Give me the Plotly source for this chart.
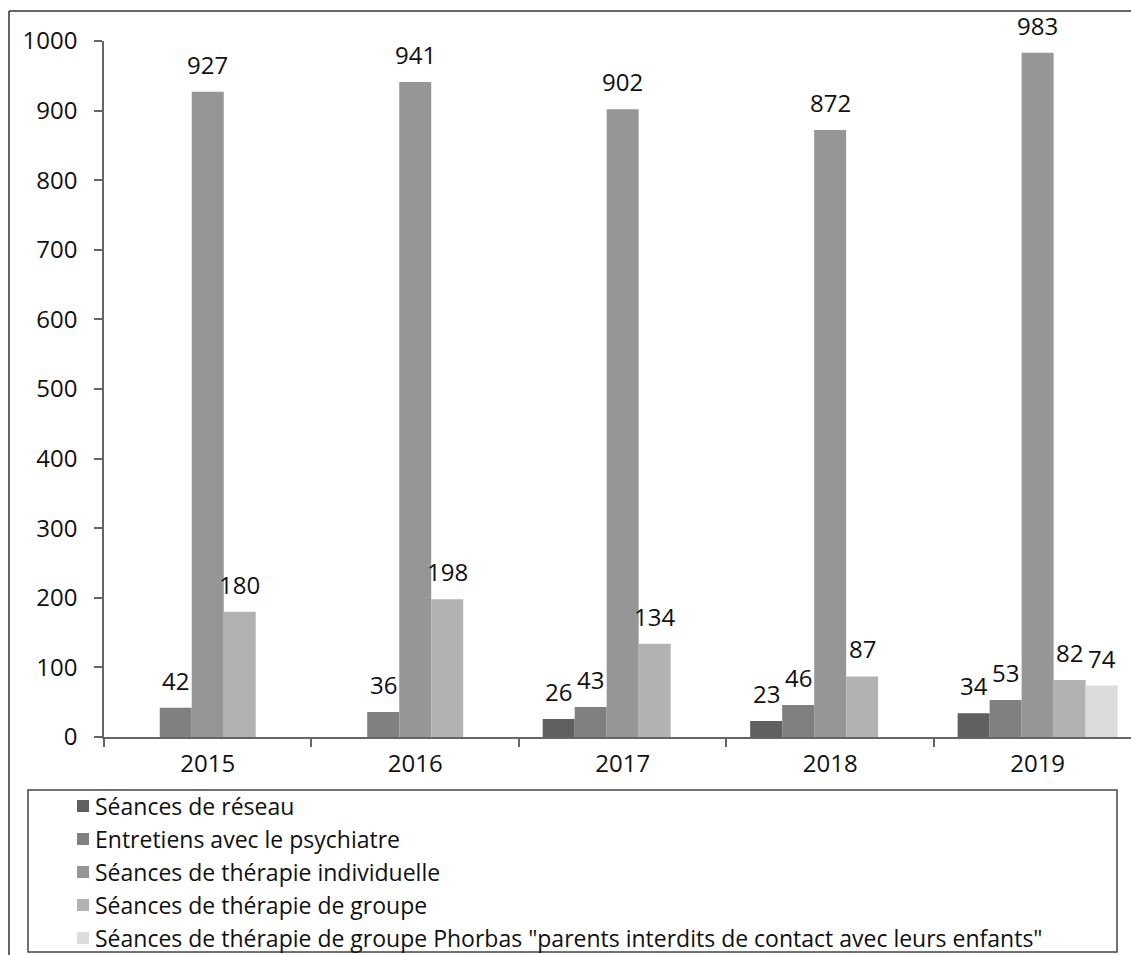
import plotly.graph_objects as go

years = ["2015", "2016", "2017", "2018", "2019"]
series_names = [
    "Séances de réseau",
    "Entretiens avec le psychiatre",
    "Séances de thérapie individuelle",
    "Séances de thérapie de groupe",
    'Séances de thérapie de groupe Phorbas "parents interdits de contact avec leurs enfants"',
]
reseau = [None, None, 26, 23, 34]
psychiatre = [42, 36, 43, 46, 53]
individuelle = [927, 941, 902, 872, 983]
groupe = [180, 198, 134, 87, 82]
phorbas = [None, None, None, None, 74]
series_values = [reseau, psychiatre, individuelle, groupe, phorbas]
colors = ["#606060", "#808080", "#969696", "#b2b2b2", "#dcdcdc"]

FONT = "Open Sans"
W, H = 1131, 955
ML, MR, MT, MB = 104, 0, 41, 218
PW, PH = W - ML - MR, H - MT - MB
XR = [-0.5, 4.45]
BARGAP = 0.229

def px(x):
    return (x - ML) / PW

def py(y):
    return (H - MB - y) / PH

fig = go.Figure()
for name, vals, col in zip(series_names, series_values, colors):
    fig.add_trace(go.Bar(x=years, y=vals, name=name, marker_color=col,
                         marker_line_width=0, showlegend=False))

n = len(series_values)
cat_px = PW / (XR[1] - XR[0])
bar_px = cat_px * (1 - BARGAP) / n
annotations = []
for i, vals in enumerate(series_values):
    for j, v in enumerate(vals):
        if v is None:
            continue
        annotations.append(dict(x=j, y=v, xref="x", yref="y", text=str(v),
                                showarrow=False, yanchor="bottom", xanchor="center",
                                xshift=(i - (n - 1) / 2) * bar_px, yshift=9,
                                font=dict(family=FONT, size=24, color="#111")))

shapes = []
# outer frame (left and top edges)
shapes.append(dict(type="line", xref="paper", yref="paper", x0=px(9), x1=px(9),
                   y0=py(960), y1=py(11), line=dict(color="#333", width=1.5)))
shapes.append(dict(type="line", xref="paper", yref="paper", x0=px(9), x1=px(1135),
                   y0=py(11), y1=py(11), line=dict(color="#333", width=1.5)))
# legend box
shapes.append(dict(type="rect", xref="paper", yref="paper", x0=px(28), x1=px(1117),
                   y0=py(952), y1=py(790), line=dict(color="#444", width=1.5),
                   fillcolor="white"))
row0, step = 806, 33
for i, (name, col) in enumerate(zip(series_names, colors)):
    cy = row0 + i * step
    shapes.append(dict(type="rect", xref="paper", yref="paper", x0=px(77), x1=px(89),
                       y0=py(cy + 6), y1=py(cy - 6), line=dict(width=0),
                       fillcolor=col))
    annotations.append(dict(x=px(93), y=py(cy), xref="paper", yref="paper",
                            text=name, showarrow=False,
                            xanchor="left", yanchor="middle",
                            font=dict(family=FONT, size=23, color="#111")))

fig.update_layout(
    width=W, height=H,
    margin=dict(l=ML, r=MR, t=MT, b=MB, autoexpand=False),
    paper_bgcolor="white", plot_bgcolor="white",
    barmode="group", bargap=BARGAP, bargroupgap=0,
    font=dict(family=FONT, size=24, color="#111"),
    annotations=annotations, shapes=shapes,
    xaxis=dict(type="category", range=XR, showgrid=False, showline=True,
               linecolor="#666", linewidth=1.5, ticks="outside", ticklen=8,
               tickcolor="#666", tickwidth=1.5, tickson="boundaries",
               ticklabelstandoff=4,
               tickfont=dict(family=FONT, size=24, color="#111")),
    yaxis=dict(range=[0, 1000], dtick=100, showgrid=False, showline=True,
               linecolor="#666", linewidth=1.5, ticks="outside", ticklen=8,
               tickcolor="#666", tickwidth=1.5, zeroline=False,
               ticklabelstandoff=12,
               tickfont=dict(family=FONT, size=24, color="#111")),
)

fig.write_html("out.html")
